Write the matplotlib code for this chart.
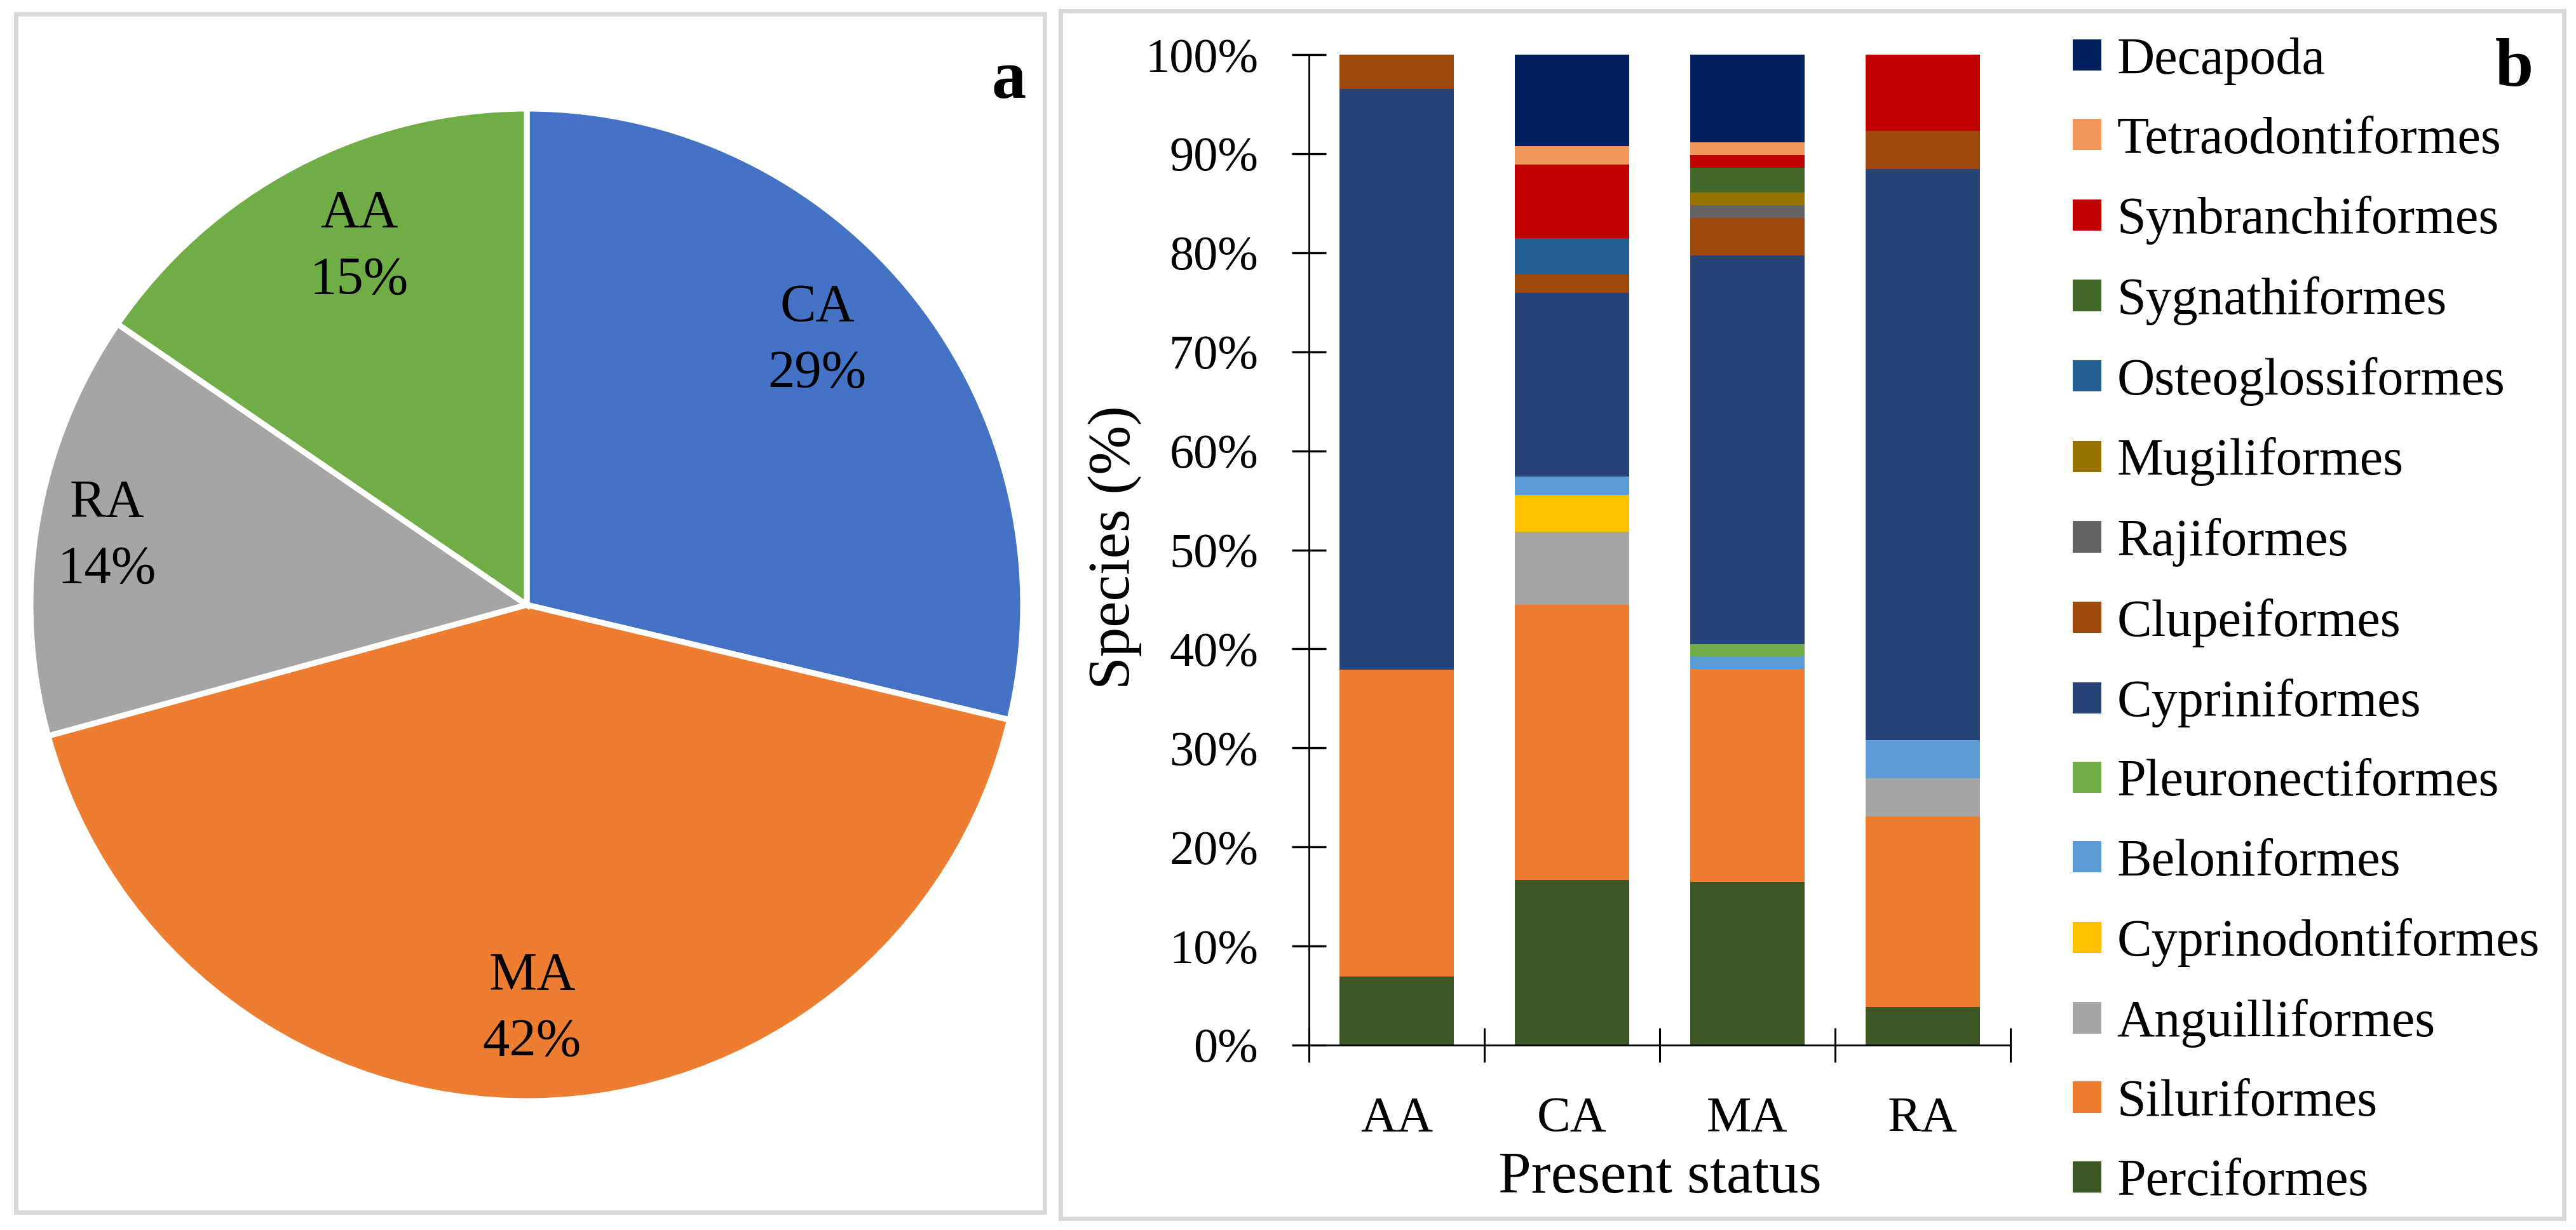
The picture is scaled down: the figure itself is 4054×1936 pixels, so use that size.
import matplotlib
matplotlib.use('Agg')
import matplotlib.pyplot as plt
from matplotlib.patches import Rectangle, Patch
from matplotlib.ticker import FixedLocator, PercentFormatter, NullFormatter
import numpy as np

plt.rcParams['font.family'] = ['Liberation Serif', 'DejaVu Serif']

# ---------------- data ----------------
pie_labels = ['CA', 'MA', 'RA', 'AA']
pie_counts = [54, 79, 26, 29]
pie_colors = ['#4472C4', '#ED7D31', '#A5A5A5', '#70AD47']

groups = ['AA', 'CA', 'MA', 'RA']
# species counts per order for groups AA, CA, MA, RA
perciformes = [2, 9, 13, 1]
siluriformes = [9, 15, 17, 5]
anguilliformes = [0, 4, 0, 1]
cyprinodontiformes = [0, 2, 0, 0]
beloniformes = [0, 1, 1, 1]
pleuronectiformes = [0, 0, 1, 0]
cypriniformes = [17, 10, 31, 15]
clupeiformes = [1, 1, 3, 1]
rajiformes = [0, 0, 1, 0]
mugiliformes = [0, 0, 1, 0]
osteoglossiformes = [0, 2, 0, 0]
sygnathiformes = [0, 0, 2, 0]
synbranchiformes = [0, 4, 1, 2]
tetraodontiformes = [0, 1, 1, 0]
decapoda = [0, 5, 7, 0]

order_names = ['Perciformes', 'Siluriformes', 'Anguilliformes', 'Cyprinodontiformes',
               'Beloniformes', 'Pleuronectiformes', 'Cypriniformes', 'Clupeiformes',
               'Rajiformes', 'Mugiliformes', 'Osteoglossiformes', 'Sygnathiformes',
               'Synbranchiformes', 'Tetraodontiformes', 'Decapoda']
order_values = [perciformes, siluriformes, anguilliformes, cyprinodontiformes,
                beloniformes, pleuronectiformes, cypriniformes, clupeiformes,
                rajiformes, mugiliformes, osteoglossiformes, sygnathiformes,
                synbranchiformes, tetraodontiformes, decapoda]
order_colors = ['#3A5724', '#ED7D31', '#A5A5A5', '#FFC000', '#5B9BD5', '#70AD47',
                '#264478', '#9E480E', '#636363', '#997300', '#255E91', '#43682B',
                '#C00000', '#F1975A', '#002060']

# ---------------- figure ----------------
W, H = 4054, 1936
fig = plt.figure(figsize=(W / 100, H / 100), dpi=100)
fig.patch.set_facecolor('white')

def fx(px):
    return px / W

def fy(py):
    return 1 - py / H

# panel borders
border_col = '#D9D9D9'
fig.patches.append(Rectangle((fx(24.5), fy(1907.5)), fx(1643.5) - fx(24.5), (1907.5 - 21.5) / H,
                             transform=fig.transFigure, fill=False, edgecolor=border_col, lw=5))
fig.patches.append(Rectangle((fx(1668.5), fy(1917.5)), fx(4035) - fx(1668.5), (1917.5 - 16.5) / H,
                             transform=fig.transFigure, fill=False, edgecolor=border_col, lw=5))

# ---------------- pie ----------------
cx, cy, r = 829, 952, 781
axp = fig.add_axes([fx(cx - r), fy(cy + r), 2 * r / W, 2 * r / H])
wedges, _ = axp.pie(pie_counts, colors=pie_colors, startangle=90, counterclock=False,
                    radius=1, wedgeprops=dict(edgecolor='white', linewidth=6.5))
axp.set_xlim(-1, 1)
axp.set_ylim(-1, 1)
axp.set_aspect('equal')
axp.axis('off')
total = sum(pie_counts)
label_r = [0.79, 0.816, 0.857, 0.795]
label_dang = [3.9, -0.2, 0.4, -2.6]
for w, lab, cnt, lr, da in zip(wedges, pie_labels, pie_counts, label_r, label_dang):
    th = np.deg2rad((w.theta1 + w.theta2) / 2 + da)
    axp.text(lr * np.cos(th), lr * np.sin(th), f'{lab}\n{round(cnt / total * 100)}%',
             ha='center', va='center', fontsize=61, linespacing=1.46)

fig.text(fx(1615), fy(154), 'a', fontsize=78, fontweight='bold', ha='right', va='baseline')

# ---------------- stacked bars ----------------
ax = fig.add_axes([fx(2060), fy(1645), (3164 - 2060) / W, (1645 - 86) / H])
x = np.arange(len(groups))
totals = np.sum(np.array(order_values), axis=0)
bottom = np.zeros(len(groups))
handles = []
for name, vals, col in zip(order_names, order_values, order_colors):
    frac = np.array(vals) / totals
    ax.bar(x, frac, width=0.65, bottom=bottom, color=col, edgecolor='none', label=name)
    bottom += frac
    handles.append(Patch(facecolor=col, edgecolor='none', label=name))

ax.set_xlim(-0.5, len(groups) - 0.5)
ax.set_ylim(0, 1)
for s in ['top', 'right']:
    ax.spines[s].set_visible(False)
for s in ['left', 'bottom']:
    ax.spines[s].set_linewidth(2.0)
    ax.spines[s].set_color('black')

ax.yaxis.set_major_locator(FixedLocator(np.linspace(0, 1, 11)))
ax.yaxis.set_major_formatter(PercentFormatter(1.0, decimals=0))
ax.tick_params(axis='y', direction='inout', length=39, width=2.4, pad=38, labelsize=55)

ax.set_xticks(x)
ax.set_xticklabels(groups)
ax.xaxis.set_minor_locator(FixedLocator(np.arange(-0.5, len(groups), 1.0)))
ax.xaxis.set_minor_formatter(NullFormatter())
ax.tick_params(axis='x', which='major', length=0, pad=58, labelsize=57)
ax.tick_params(axis='x', which='minor', direction='inout', length=39, width=2.2)

ax.set_xlabel('Present status', fontsize=67, labelpad=11)
ax.set_ylabel('Species (%)', fontsize=67)
ax.yaxis.set_label_coords((1797 - 2060) / (3164 - 2060), (1645 - 862) / (1645 - 86))

leg = ax.legend(handles=handles[::-1], loc='upper left',
                bbox_to_anchor=(fx(3262), fy(58)), bbox_transform=fig.transFigure,
                frameon=False, fontsize=59, handlelength=0.55, handleheight=0.55,
                handletextpad=0.3, labelspacing=0.606, borderpad=0, borderaxespad=0)

fig.text(fx(3987), fy(135), 'b', fontsize=78, fontweight='bold', ha='right', va='baseline')

fig.savefig('out.png', dpi=100, facecolor='white')
